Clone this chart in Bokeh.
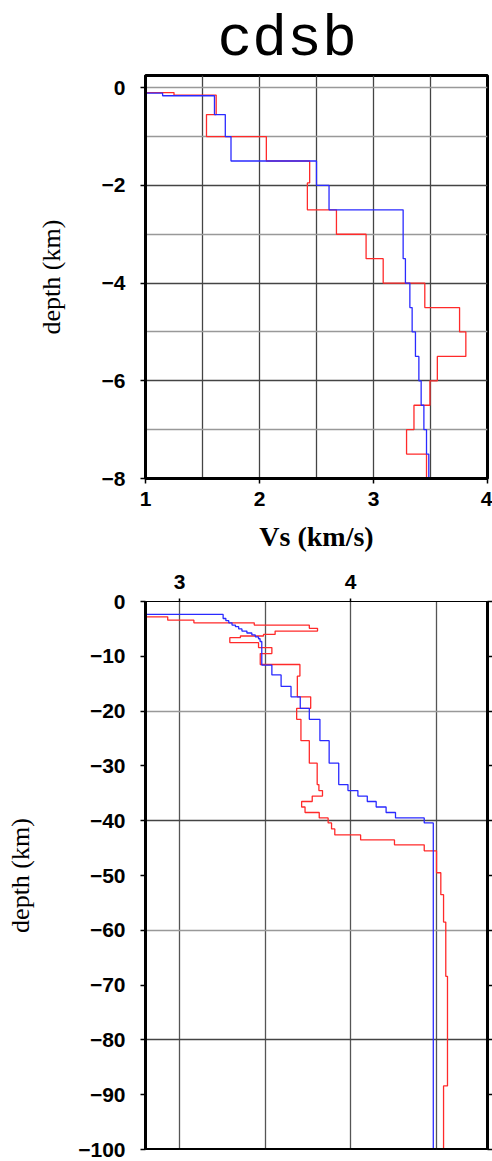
from bokeh.plotting import figure
from bokeh.models import FixedTicker, LinearAxis, Grid, Span, Range1d
from bokeh.layouts import column
from bokeh.embed import file_html
from bokeh.resources import INLINE

# ---- data: layered Vs profiles (velocity of each layer, depth of its bottom) ----
top_red_vs = [0.9, 1.25, 1.62, 1.535, 2.06, 2.44, 2.42, 2.675, 2.935, 3.085,
              3.45, 3.755, 3.81, 3.56, 3.495, 3.355, 3.29, 3.465]
top_red_bot = [-0.1, -0.15, -0.55, -1.0, -1.5, -1.95, -2.5, -3.0, -3.5, -4.0,
               -4.5, -5.0, -5.5, -6.0, -6.5, -7.0, -7.5, -8.0]
top_blue_vs = [0.9, 1.15, 1.605, 1.70, 1.75, 2.50, 2.61, 3.26, 3.28, 3.319,
               3.339, 3.368, 3.398, 3.418, 3.442, 3.465, 3.485]
top_blue_bot = [-0.11, -0.165, -0.55, -1.0, -1.5, -2.0, -2.5, -3.5, -4.0, -4.5,
                -5.0, -5.5, -6.0, -6.5, -7.0, -7.5, -8.0]

bot_red_vs = [2.6, 2.93, 3.083, 3.436, 3.758, 3.806, 3.558, 3.49, 3.355, 3.293,
              3.461, 3.539, 3.471, 3.703, 3.688, 3.766, 3.684, 3.709, 3.758, 3.804,
              3.814, 3.835, 3.775, 3.713, 3.733, 3.816, 3.868, 3.888, 3.907, 4.058,
              4.256, 4.43, 4.502, 4.527, 4.543, 4.556, 4.566, 4.543]
bot_red_bot = [-2.8, -3.4, -3.9, -4.3, -4.9, -5.4, -6.0, -6.3, -6.6, -7.5,
               -8.4, -9.5, -11.5, -13.6, -17.4, -19.5, -21.5, -25.4, -29.5, -33.4,
               -34.5, -35.5, -36.5, -37.5, -38.5, -39.5, -40.4, -41.5, -42.6, -43.5,
               -44.4, -45.5, -49.5, -53.5, -58.5, -68.4, -88.4, -100.0]
bot_blue_vs = [2.6, 3.254, 3.27, 3.287, 3.306, 3.326, 3.345, 3.364, 3.393, 3.422,
               3.442, 3.461, 3.47, 3.48, 3.539, 3.593, 3.651, 3.705, 3.758, 3.82,
               3.874, 3.93, 3.984, 4.042, 4.097, 4.149, 4.207, 4.262, 4.43, 4.483]
bot_blue_bot = [-2.35, -3.1, -3.5, -3.9, -4.3, -4.6, -5.0, -5.4, -5.75, -6.1,
                -6.45, -6.8, -7.3, -11.6, -13.4, -15.5, -17.4, -19.5, -21.5, -25.4,
                -29.5, -33.4, -34.5, -35.5, -36.5, -37.5, -38.5, -39.5, -40.4, -100.0]

top_xticks = [1, 2, 3, 4]
top_xgrid = [1.5, 2, 2.5, 3, 3.5]
top_yticks = [0, -2, -4, -6, -8]
top_ygrid_dark = [-2, -4, -6]
top_ygrid_light = [0, -1, -3, -5, -7]
bot_xticks = [3, 4]
bot_xgrid = [3, 3.5, 4, 4.5]
bot_yticks = [0, -10, -20, -30, -40, -50, -60, -70, -80, -90, -100]
bot_ygrid_dark = [-40, -80]
bot_ygrid_light = [-20, -60]


def profile(vs, bots):
    xs, ys = [], []
    top = 0.0
    for v, b in zip(vs, bots):
        xs += [v, v]
        ys += [top, b]
        top = b
    return xs, ys


TICK_FONT = "Liberation Sans"
LABEL_FONT = "Liberation Serif"


def style_axis(ax, width=3):
    ax.axis_line_width = width
    ax.axis_line_color = "black"
    ax.major_tick_line_width = 1.5
    ax.major_tick_in = 0
    ax.minor_tick_line_color = None
    ax.major_label_text_font = TICK_FONT
    ax.major_label_text_font_style = "bold"
    ax.major_label_text_font_size = "21px"
    ax.major_label_text_color = "black"
    ax.axis_label_text_font = LABEL_FONT
    ax.axis_label_text_color = "black"


# ---------------- top panel ----------------
p1 = figure(width=492, height=560, x_range=Range1d(1, 4), y_range=Range1d(-8, 0.25),
            output_backend="svg", toolbar_location=None, title="cdsb",
            min_border_left=145, min_border_right=5, min_border_top=75,
            min_border_bottom=82, x_axis_label="Vs (km/s)", y_axis_label="depth (km)")
p1.title.text_font = "Liberation Mono"
p1.title.text_font_size = "58px"
p1.title.text_font_style = "normal"
p1.title.text_color = "black"
p1.title.align = "left"
p1.title.offset = 72
p1.title.standoff = 8
p1.outline_line_color = "black"
p1.outline_line_width = 3
p1.outline_line_alpha = 1

xa = p1.xaxis[0]
style_axis(xa)
xa.ticker = FixedTicker(ticks=top_xticks)
xa.major_tick_out = 5
xa.major_label_standoff = 8
xa.axis_label_standoff = 12
xa.axis_label_text_font_size = "28px"
xa.axis_label_text_font_style = "bold"

ya = p1.yaxis[0]
style_axis(ya)
ya.ticker = FixedTicker(ticks=top_yticks)
ya.major_tick_out = 5
ya.major_label_standoff = 15
ya.axis_label_standoff = 33
ya.axis_label_text_font_size = "26px"
ya.axis_label_text_font_style = "normal"

p1.xgrid.ticker = FixedTicker(ticks=top_xgrid)
p1.xgrid.grid_line_color = "#444444"
p1.xgrid.grid_line_width = 1.3
p1.ygrid.ticker = FixedTicker(ticks=top_ygrid_dark)
p1.ygrid.grid_line_color = "#444444"
p1.ygrid.grid_line_width = 1.3
p1.add_layout(Grid(dimension=1, ticker=FixedTicker(ticks=top_ygrid_light),
                   grid_line_color="#999999", grid_line_width=1.3))

xs, ys = profile(top_red_vs, top_red_bot)
p1.line(xs, ys, line_color="#ff2a2a", line_width=1.3)
xs, ys = profile(top_blue_vs, top_blue_bot)
p1.line(xs, ys, line_color="#2a2aff", line_width=1.3)

# ---------------- bottom panel ----------------
p2 = figure(width=492, height=601, x_range=Range1d(2.8, 4.8), y_range=Range1d(-100, 0),
            output_backend="svg", toolbar_location=None, x_axis_location="above",
            min_border_left=145, min_border_right=5, min_border_top=41,
            min_border_bottom=12, y_axis_label="depth (km)")
p2.outline_line_color = "black"
p2.outline_line_width = 1

xa2 = p2.xaxis[0]
style_axis(xa2, width=1)
xa2.ticker = FixedTicker(ticks=bot_xticks)
xa2.major_tick_out = 3
xa2.major_label_standoff = 10

ya2 = p2.yaxis[0]
style_axis(ya2)
ya2.ticker = FixedTicker(ticks=bot_yticks)
ya2.major_tick_out = 5
ya2.major_label_standoff = 15
ya2.axis_label_standoff = 40
ya2.axis_label_text_font_size = "26px"
ya2.axis_label_text_font_style = "normal"

ra = LinearAxis(ticker=FixedTicker(ticks=bot_yticks),
                major_label_overrides={t: "" for t in bot_yticks})
style_axis(ra)
ra.major_tick_out = 5
ra.major_label_standoff = 0
p2.add_layout(ra, "right")

p2.add_layout(Span(location=-100, dimension="width", line_color="black", line_width=3))

p2.xgrid.ticker = FixedTicker(ticks=bot_xgrid)
p2.xgrid.grid_line_color = "#555555"
p2.xgrid.grid_line_width = 1.3
p2.ygrid.ticker = FixedTicker(ticks=bot_ygrid_dark)
p2.ygrid.grid_line_color = "#444444"
p2.ygrid.grid_line_width = 1.3
p2.add_layout(Grid(dimension=1, ticker=FixedTicker(ticks=bot_ygrid_light),
                   grid_line_color="#999999", grid_line_width=1.3))

xs, ys = profile(bot_red_vs, bot_red_bot)
p2.line(xs, ys, line_color="#ff2a2a", line_width=1.3)
xs, ys = profile(bot_blue_vs, bot_blue_bot)
p2.line(xs, ys, line_color="#2a2aff", line_width=1.3)

layout = column(p1, p2, spacing=0)
open("out.html", "w").write(file_html(layout, INLINE))
